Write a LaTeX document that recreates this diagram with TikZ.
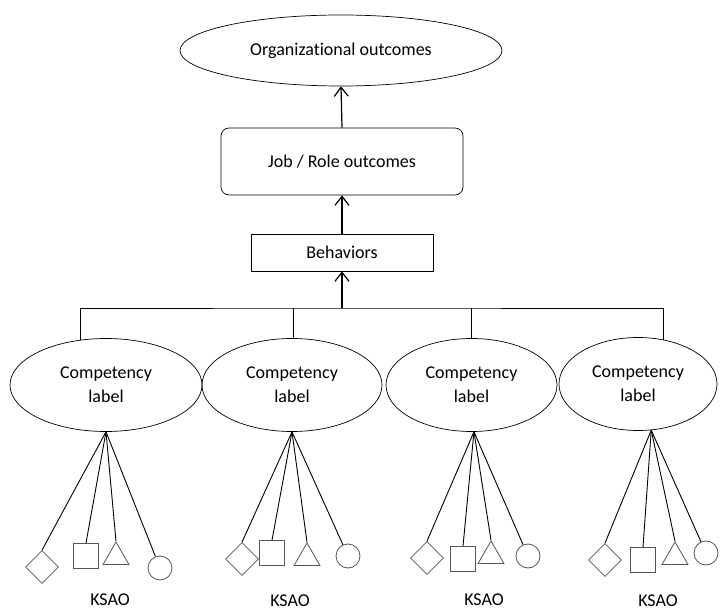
\documentclass[tikz,border=0pt]{standalone}
\usepackage{fontspec}
\setmainfont{Carlito}[Ligatures=CommonOff]
\usetikzlibrary{arrows.meta,shapes.geometric}
\definecolor{markgray}{RGB}{85,85,85}
\tikzset{
  >={Straight Barb[length=9pt,width=14pt]},
  flow/.style={->,draw=black,line width=1.2pt},
  flowline/.style={draw=black,line width=0.9pt},
  spoke/.style={draw=black,line width=0.9pt},
  outcome/.style={
    draw=black,
    ellipse,
    line width=0.7pt,
    inner sep=0pt,
    align=center
  },
  levelbox/.style={
    draw=black,
    rectangle,
    line width=0.7pt,
    inner sep=0pt,
    align=center
  },
  competency/.style={
    draw=black,
    ellipse,
    line width=0.7pt,
    inner sep=0pt,
    minimum height=93pt,
    align=center
  },
  diamondmark/.style={draw=markgray,diamond,line width=0.8pt,inner sep=0pt,
    minimum width=33pt,minimum height=33pt},
  squaremark/.style={draw=markgray,rectangle,line width=0.8pt,inner sep=0pt,
    minimum size=25pt},
  trianglemark/.style={draw=markgray,regular polygon,regular polygon sides=3,
    line width=0.8pt,inner sep=0pt,minimum size=30pt},
  circlemark/.style={draw=markgray,circle,line width=0.8pt,inner sep=0pt,
    minimum size=24pt},
  ksao/.style={inner sep=0pt}
}
\newcommand{\ksaofan}[7]{%
  \node[diamondmark] (#1d) at (#3) {};
  \node[squaremark] (#1s) at (#4) {};
  \node[trianglemark] (#1t) at (#5) {};
  \node[circlemark] (#1c) at (#6) {};
  \node[ksao] (#1k) at (#7) {KSAO};
  \draw[spoke] (#2) -- (#1d.north);
  \draw[spoke] (#2) -- (#1s.north);
  \draw[spoke] (#2) -- (#1t.north);
  \draw[spoke] (#2) -- (#1c);
}

\begin{document}
\begin{tikzpicture}[x=1pt,y=-1pt,font=\fontsize{18}{24}\selectfont]
  \useasboundingbox (0,0) rectangle (720,612);

  % Outcome levels
  \node[outcome,minimum width=322pt,minimum height=71pt] (orgout) at (341,50.5)
    {Organizational outcomes};
  \node[levelbox,rounded corners=8pt,minimum width=242pt,minimum height=67pt]
    (jobout) at (342,161.5) {Job / Role outcomes};
  \node[levelbox,minimum width=182pt,minimum height=37pt] (behav) at (342,252.5)
    {Behaviors};

  \coordinate (bus) at (342,308);
  \draw[flow] (bus) -- (behav.south);
  \draw[flow] (behav.north) -- (jobout.south);
  \draw[flow] (jobout.north) -- (orgout.south);

  % Competencies
  \node[competency,minimum width=192pt] (comp1) at (106,385) {Competency\\label};
  \node[competency,minimum width=180pt] (comp2) at (292,385) {Competency\\label};
  \node[competency,minimum width=171pt] (comp3) at (471.5,385) {Competency\\label};
  \node[competency,minimum width=158pt] (comp4) at (638,384) {Competency\\label};

  \draw[flowline] (comp1.120) |- (bus) -| (comp4.60);
  \draw[flowline] (comp2.88) -- (comp2.88 |- bus);
  \draw[flowline] (comp3.north) -- (comp3.north |- bus);

  % KSAO indicators
  \ksaofan{k1}{comp1.south}{42,567}{86,556}{116,557}{160,568}{110,600}
  \ksaofan{k2}{comp2.south}{242,559}{272,553}{307,558}{348,556}{290,601}
  \ksaofan{k3}{comp3.-87}{427,558}{463,559}{491,556}{528,556}{484,600}
  \ksaofan{k4}{comp4.-74}{605,560}{643,560}{675,557}{706,553}{658,601}
\end{tikzpicture}
\end{document}
